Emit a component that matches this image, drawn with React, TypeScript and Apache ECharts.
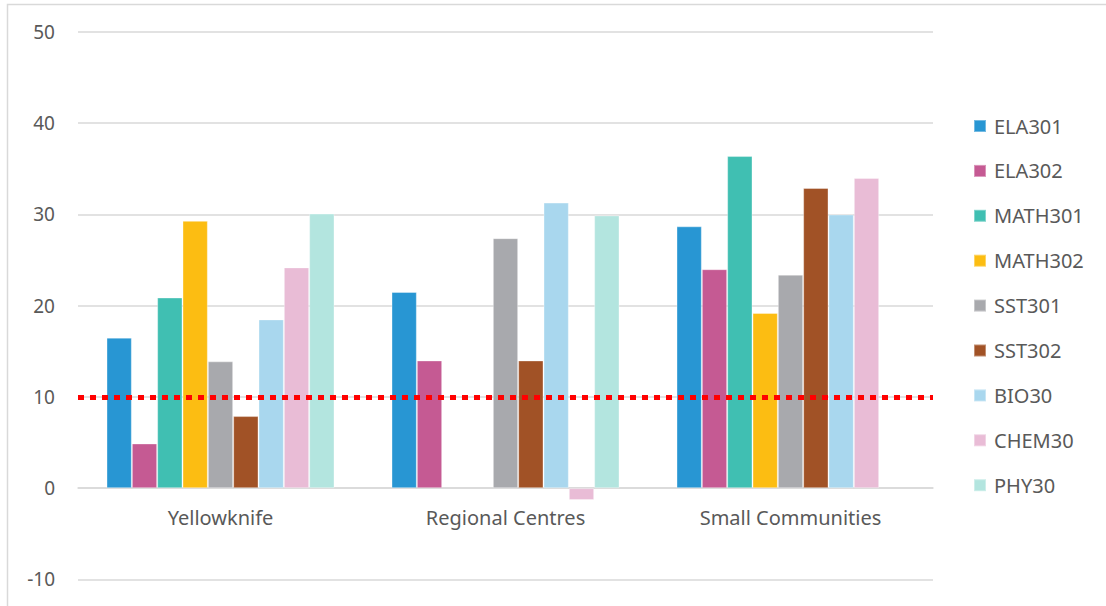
import React, { useEffect, useRef } from "react";
import * as echarts from "echarts";

// Regions along the category axis
const regions = ["Yellowknife", "Regional Centres", "Small Communities"];

// Course names, in legend order
const courses = [
  "ELA301",
  "ELA302",
  "MATH301",
  "MATH302",
  "SST301",
  "SST302",
  "BIO30",
  "CHEM30",
  "PHY30",
];

const courseColors = [
  "#2896D3",
  "#C55A93",
  "#40BFB2",
  "#FCBD12",
  "#A8A9AD",
  "#A15226",
  "#A9D7EE",
  "#E9BCD6",
  "#B3E5DF",
];

// Values per course, one per region (null = no result)
const ela301 = [16.5, 21.5, 28.7];
const ela302 = [4.9, 14.0, 24.0];
const math301 = [20.9, null, 36.4];
const math302 = [29.3, null, 19.2];
const sst301 = [13.9, 27.4, 23.4];
const sst302 = [7.9, 14.0, 32.9];
const bio30 = [18.5, 31.3, 30.0];
const chem30 = [24.2, -1.3, 34.0];
const phy30 = [30.1, 29.9, null];

const courseValues = [ela301, ela302, math301, math302, sst301, sst302, bio30, chem30, phy30];

// Reference level drawn as a dotted red line
const threshold = 10;

// Value axis range
const yMin = -10;
const yMax = 50;
const yStep = 10;

const FONT = "'Noto Sans', sans-serif";
const TEXT = "#595959";
const GRID = "#D9D9D9";

// Plot box
const GRID_TOP = 32;
const GRID_BOTTOM_Y = 579.4;

export default function App() {
  const ref = useRef<HTMLDivElement>(null);

  useEffect(() => {
    if (!ref.current) return;
    const chart = echarts.init(ref.current, undefined, { renderer: "svg" });

    // Distance from the bottom of the plot up to the zero line, where the
    // category axis and its labels sit
    const zeroOffset = ((0 - yMin) / (yMax - yMin)) * (GRID_BOTTOM_Y - GRID_TOP);

    const series = courses.map((name, i) => {
      const s: any = {
        name,
        type: "bar",
        data: courseValues[i].map((v) => (v === null ? "-" : v)),
        barGap: "0%",
        barCategoryGap: "20%",
        itemStyle: {
          color: courseColors[i],
          borderColor: "rgba(255,255,255,0.35)",
          borderWidth: 1,
        },
      };
      if (i === courses.length - 1) {
        s.markLine = {
          silent: true,
          symbol: ["none", "none"],
          label: { show: false },
          lineStyle: { color: "#FF0000", width: 5, type: [6, 6] },
          data: [{ yAxis: threshold }],
        };
      }
      return s;
    });

    chart.setOption({
      animation: false,
      backgroundColor: "#FFFFFF",
      textStyle: { fontFamily: FONT },
      graphic: [
        {
          type: "rect",
          shape: { x: 7.5, y: 4.5, width: 1200, height: 700 },
          style: { fill: "none", stroke: GRID, lineWidth: 1.5 },
          silent: true,
        },
      ],
      grid: {
        left: 78,
        right: 173,
        top: GRID_TOP,
        bottom: 606 - GRID_BOTTOM_Y,
        containLabel: false,
        outerBoundsMode: "none",
      },
      legend: {
        orient: "vertical",
        left: 973,
        top: 116,
        padding: 0,
        itemWidth: 12,
        itemHeight: 12,
        itemGap: 24.9,
        icon: "rect",
        data: courses,
        textStyle: {
          fontFamily: FONT,
          fontSize: 20,
          lineHeight: 20,
          color: TEXT,
          padding: [0, 0, 0, 3],
        },
      },
      xAxis: {
        type: "category",
        data: regions,
        offset: -zeroOffset,
        axisLine: { onZero: false, lineStyle: { color: GRID, width: 1.5 } },
        axisTick: { show: false },
        axisLabel: { color: TEXT, fontSize: 20, fontFamily: FONT, margin: 19 },
        splitLine: { show: false },
      },
      yAxis: {
        type: "value",
        min: yMin,
        max: yMax,
        interval: yStep,
        axisLine: { show: false },
        axisTick: { show: false },
        axisLabel: { color: TEXT, fontSize: 19, fontFamily: FONT, margin: 23 },
        splitLine: { lineStyle: { color: GRID, width: 1.5 } },
      },
      series,
    });

    return () => chart.dispose();
  }, []);

  return (
    <div
      ref={ref}
      style={{ position: "absolute", left: 0, top: 0, width: 1106, height: 606 }}
    />
  );
}
